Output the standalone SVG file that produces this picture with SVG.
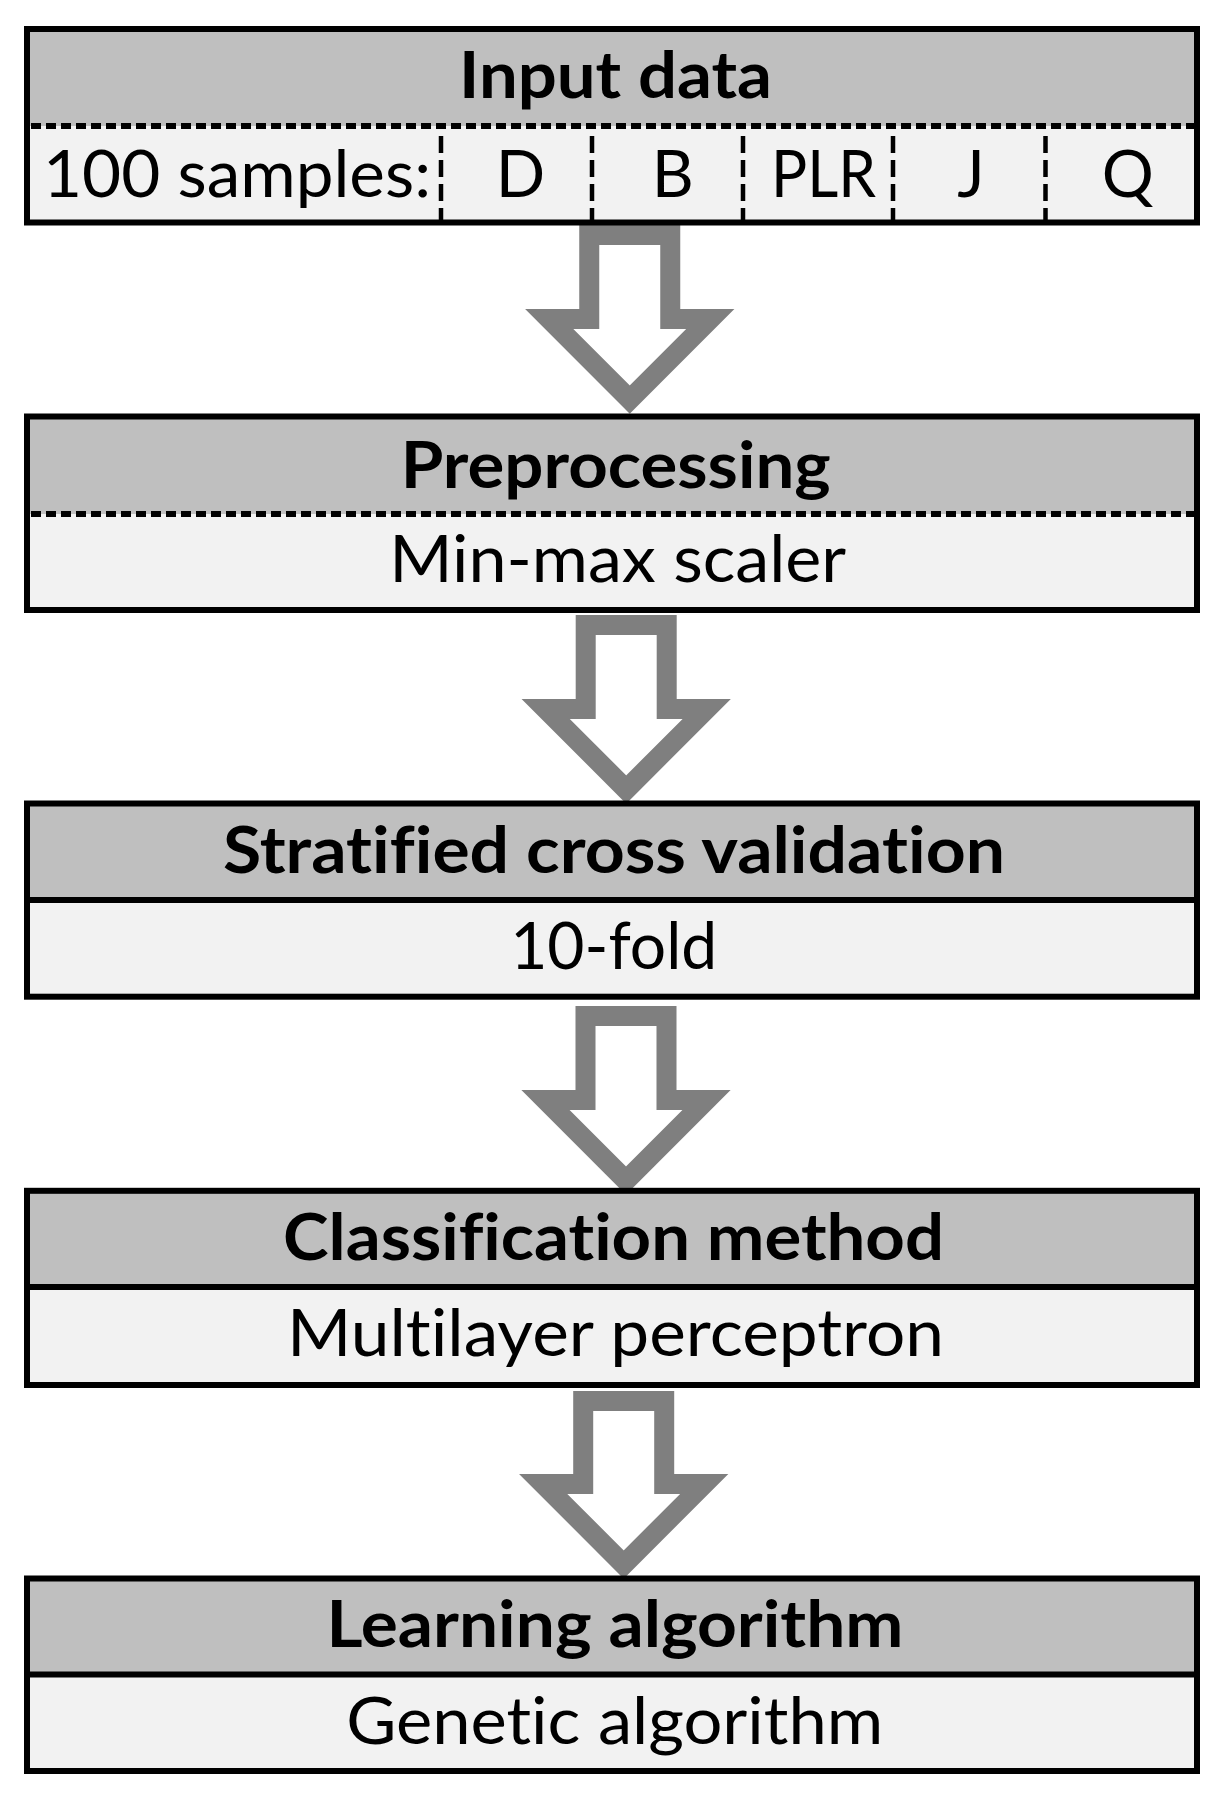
<svg xmlns="http://www.w3.org/2000/svg" width="1220" height="1796" viewBox="0 0 1220 1796">
<style>
.hd{fill:#bfbfbf}
.bd{fill:#f2f2f2}
.frame{fill:none;stroke:#000;stroke-width:6}
.sep{stroke:#000;stroke-width:6}
.dsep{stroke:#000;stroke-width:6;stroke-dasharray:10 5}
.vsep{stroke:#000;stroke-width:4.5;stroke-dasharray:17 7}
.arrow{fill:#fff;stroke:#7f7f7f;stroke-width:20;stroke-linejoin:miter;stroke-miterlimit:4}
.t{font-family:Lato,"Liberation Sans",sans-serif;font-size:65px;fill:#000;font-variant-ligatures:none;font-feature-settings:"liga" 0,"clig" 0}
.b{font-weight:bold}
</style>
<rect width="1220" height="1796" fill="#fff"/>
<g id="connectors">
<path class="arrow" d="M589.25,235 H670.25 V319 H710.25 L629.75,399.5 L549.25,319 H589.25 Z"/>
<path class="arrow" d="M585.7,625 H666.7 V709 H706.7 L626.2,789.5 L545.7,709 H585.7 Z"/>
<path class="arrow" d="M585.5,1016 H666.5 V1100 H706.5 L626,1180.5 L545.5,1100 H585.5 Z"/>
<path class="arrow" d="M583.2,1401 H664.2 V1484 H704.2 L623.7,1564.5 L543.2,1484 H583.2 Z"/>
</g>
<g id="input-data">
<rect class="hd" x="27" y="29" width="1170" height="97"/>
<rect class="bd" x="27" y="126" width="1170" height="96.5"/>
<line class="dsep" x1="31" y1="126" x2="1194" y2="126"/>
<line class="vsep" x1="441" y1="136" x2="441" y2="220"/>
<line class="vsep" x1="592" y1="136" x2="592" y2="220"/>
<line class="vsep" x1="743" y1="136" x2="743" y2="220"/>
<line class="vsep" x1="893" y1="136" x2="893" y2="220"/>
<line class="vsep" x1="1045.5" y1="136" x2="1045.5" y2="220"/>
<rect class="frame" x="27" y="29" width="1170" height="193.5"/>
<text class="t b" x="615.5" y="98" text-anchor="middle" textLength="313" lengthAdjust="spacingAndGlyphs">Input data</text>
<text class="t" x="43" y="197" textLength="388" lengthAdjust="spacingAndGlyphs">100 samples:</text>
<text class="t" x="520.5" y="197" text-anchor="middle">D</text>
<text class="t" x="672.7" y="197" text-anchor="middle">B</text>
<text class="t" x="823.6" y="197" text-anchor="middle" textLength="105" lengthAdjust="spacingAndGlyphs">PLR</text>
<text class="t" x="971" y="197" text-anchor="middle">J</text>
<text class="t" x="1127.7" y="197" text-anchor="middle">Q</text>
</g>
<g id="preprocessing">
<rect class="hd" x="27" y="416.5" width="1170" height="97.5"/>
<rect class="bd" x="27" y="514" width="1170" height="96"/>
<line class="dsep" x1="31" y1="514" x2="1194" y2="514"/>
<rect class="frame" x="27" y="416.5" width="1170" height="193.5"/>
<text class="t b" x="615.7" y="488" text-anchor="middle" textLength="430" lengthAdjust="spacingAndGlyphs">Preprocessing</text>
<text class="t" x="617.7" y="581.7" text-anchor="middle" textLength="457" lengthAdjust="spacingAndGlyphs">Min-max scaler</text>
</g>
<g id="cross-validation">
<rect class="hd" x="27" y="803.5" width="1170" height="96.5"/>
<rect class="bd" x="27" y="900" width="1170" height="96.7"/>
<line class="sep" x1="30" y1="900" x2="1194" y2="900"/>
<rect class="frame" x="27" y="803.5" width="1170" height="193.2"/>
<text class="t b" x="614" y="872.7" text-anchor="middle" textLength="782" lengthAdjust="spacingAndGlyphs">Stratified cross validation</text>
<text class="t" x="613.7" y="969" text-anchor="middle" textLength="207" lengthAdjust="spacingAndGlyphs">10-fold</text>
</g>
<g id="classification">
<rect class="hd" x="27" y="1190.8" width="1170" height="96.2"/>
<rect class="bd" x="27" y="1287" width="1170" height="98"/>
<line class="sep" x1="30" y1="1287" x2="1194" y2="1287"/>
<rect class="frame" x="27" y="1190.8" width="1170" height="194.2"/>
<text class="t b" x="613.5" y="1260" text-anchor="middle" textLength="661" lengthAdjust="spacingAndGlyphs">Classification method</text>
<text class="t" x="615.5" y="1355.7" text-anchor="middle" textLength="657" lengthAdjust="spacingAndGlyphs">Multilayer perceptron</text>
</g>
<g id="learning">
<rect class="hd" x="27" y="1578.5" width="1170" height="96"/>
<rect class="bd" x="27" y="1674.5" width="1170" height="96.5"/>
<line class="sep" x1="30" y1="1674.5" x2="1194" y2="1674.5"/>
<rect class="frame" x="27" y="1578.5" width="1170" height="192.5"/>
<text class="t b" x="615" y="1646.7" text-anchor="middle" textLength="577" lengthAdjust="spacingAndGlyphs">Learning algorithm</text>
<text class="t" x="614.7" y="1744" text-anchor="middle" textLength="537" lengthAdjust="spacingAndGlyphs">Genetic algorithm</text>
</g>
</svg>
